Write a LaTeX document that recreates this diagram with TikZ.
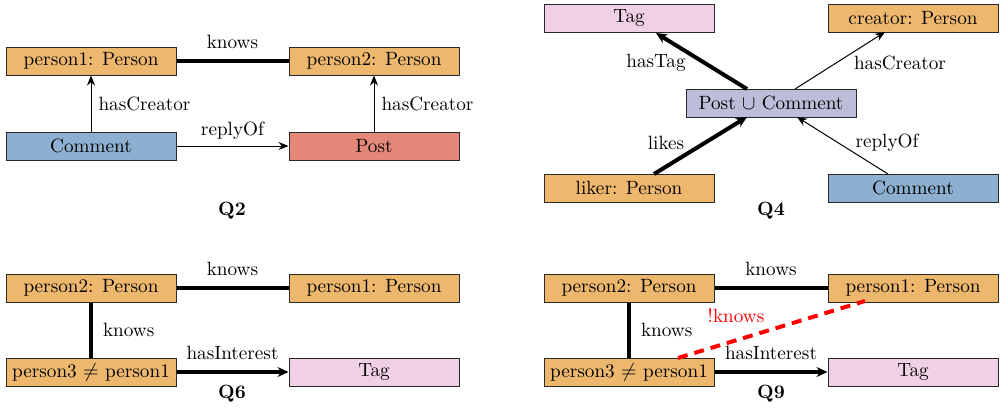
\documentclass[tikz,border=0pt]{standalone}
\usetikzlibrary{arrows.meta}
\definecolor{cperson}{RGB}{237,184,110}
\definecolor{ccomment}{RGB}{142,176,208}
\definecolor{cpost}{RGB}{228,137,122}
\definecolor{ctag}{RGB}{240,208,228}
\definecolor{cunion}{RGB}{188,189,216}
\definecolor{cline}{RGB}{40,40,40}
\newcommand{\myfs}{\fontsize{9.6}{11.5}\selectfont}
\tikzset{
  ent/.style={draw=cline, line width=0.5pt, minimum width=85pt, minimum height=14pt, inner sep=0pt, font=\myfs},
  pers/.style={ent, fill=cperson},
  comm/.style={ent, fill=ccomment},
  postb/.style={ent, fill=cpost},
  tagb/.style={ent, fill=ctag},
  unionb/.style={ent, fill=cunion},
  thinarr/.style={line width=0.5pt, -{Stealth[length=5pt,width=4pt]}},
  thickarr/.style={line width=2pt, -{Stealth[length=5.5pt,width=5pt]}},
  thickline/.style={line width=2pt},
  neg/.style={line width=2pt, red, dash pattern=on 5pt off 3.5pt},
  lbl/.style={inner sep=0pt, font=\myfs},
  qlbl/.style={inner sep=0pt, font=\myfs\bfseries}
}
\begin{document}
\begin{tikzpicture}[x=0.5pt,y=-0.5pt]
\useasboundingbox (0,0) rectangle (1000,408);
% Q2
\node[pers] (a1) at (91,61) {person1: Person};
\node[pers] (a2) at (374,61) {person2: Person};
\node[comm] (a3) at (91,146) {Comment};
\node[postb] (a4) at (374,146) {Post};
\draw[thickline] (a1) -- node[lbl, above=5pt] {knows} (a2);
\draw[thinarr] (a3) -- node[lbl, right=3.5pt] {hasCreator} (a1);
\draw[thinarr] (a4) -- node[lbl, right=3.5pt] {hasCreator} (a2);
\draw[thinarr] (a3) -- node[lbl, above=3pt] {replyOf} (a4);
\node[qlbl] (q2) at (232,211) {Q2};
% Q4
\node[tagb] (b1) at (629,18) {Tag};
\node[pers] (b2) at (913,18) {creator: Person};
\node[unionb] (b3) at (771,103) {Post $\cup$ Comment};
\node[pers] (b4) at (629,188) {liker: Person};
\node[comm] (b5) at (913,188) {Comment};
\coordinate (b3tl) at (747,89);
\coordinate (b3tr) at (795,89);
\coordinate (b3bl) at (747,117);
\coordinate (b3br) at (797,117);
\coordinate (b1b) at (656,33);
\coordinate (b2b) at (885,32);
\coordinate (b4t) at (654,174);
\coordinate (b5t) at (888,174);
\draw[thickarr] (b3tl) -- (b1b);
\draw[thinarr] (b3tr) -- (b2b);
\draw[thickarr] (b4t) -- (b3bl);
\draw[thinarr] (b5t) -- (b3br);
\node[lbl] (l1) at (656,63) {hasTag};
\node[lbl] (l2) at (900,63) {hasCreator};
\node[lbl] (l3) at (666,143) {likes};
\node[lbl] (l4) at (887,143) {replyOf};
\node[qlbl] (q4) at (771,211) {Q4};
% Q6
\node[pers] (c1) at (91,288) {person2: Person};
\node[pers] (c2) at (374,288) {person1: Person};
\node[pers] (c3) at (91,372) {person3 $\neq$ person1};
\node[tagb] (c4) at (374,372) {Tag};
\draw[thickline] (c1) -- node[lbl, above=5pt] {knows} (c2);
\draw[thickline] (c1) -- node[lbl, right=5pt] {knows} (c3);
\draw[thickarr] (c3) -- node[lbl, above=5pt] {hasInterest} (c4);
\node[qlbl] (q6) at (232,394) {Q6};
% Q9
\node[pers] (d1) at (629,288) {person2: Person};
\node[pers] (d2) at (913,288) {person1: Person};
\node[pers] (d3) at (629,372) {person3 $\neq$ person1};
\node[tagb] (d4) at (913,372) {Tag};
\draw[thickline] (d1) -- node[lbl, above=5pt] {knows} (d2);
\draw[thickline] (d1) -- node[lbl, right=5pt] {knows} (d3);
\draw[thickarr] (d3) -- node[lbl, above=5pt] {hasInterest} (d4);
\coordinate (d3t) at (678,358);
\coordinate (d2b) at (865,301);
\draw[neg] (d3t) -- (d2b);
\node[lbl, red] (l5) at (736,316) {!knows};
\node[qlbl] (q9) at (771,394) {Q9};
\end{tikzpicture}
\end{document}
